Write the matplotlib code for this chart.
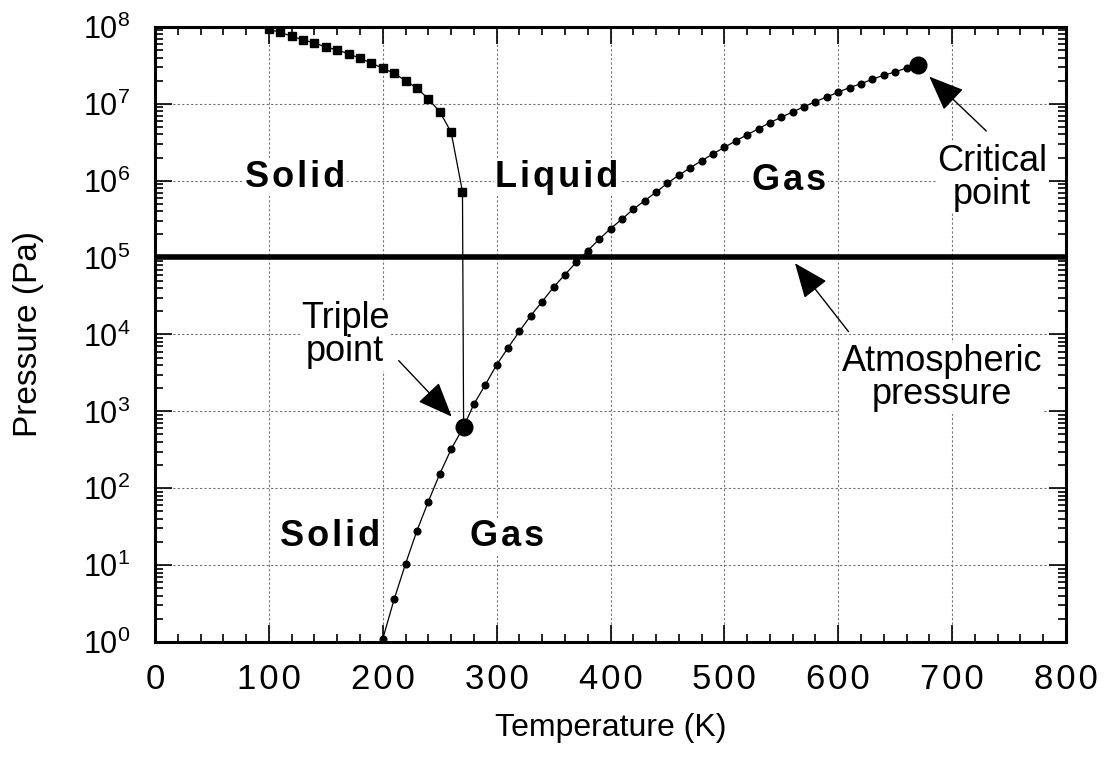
import matplotlib
matplotlib.use('Agg')
from matplotlib import pyplot as plt
from matplotlib.ticker import LogLocator, MultipleLocator, NullFormatter

plt.rcParams['font.family'] = ['Liberation Sans', 'DejaVu Sans']
plt.rcParams['mathtext.fontset'] = 'custom'
plt.rcParams['mathtext.rm'] = 'Liberation Sans'

# solid-liquid boundary (squares)
melt_T = [100, 110, 120, 130, 140, 150, 160, 170, 180, 190, 200, 210, 220, 230, 240, 250, 260, 270]
melt_P = [9.3e7, 8.5e7, 7.6e7, 6.8e7, 6.2e7, 5.5e7, 5.0e7, 4.5e7, 3.9e7, 3.4e7,
          2.9e7, 2.5e7, 2.0e7, 1.6e7, 1.16e7, 7.9e6, 4.3e6, 7.2e5]

# sublimation + vaporization boundary (small dots)
vap_T = [200, 210, 220, 230, 240, 250, 260,
         280, 290, 300, 310, 320, 330, 340, 350, 360, 370, 380, 390, 400,
         410, 420, 430, 440, 450, 460, 470, 480, 490, 500, 510, 520, 530,
         540, 550, 560, 570, 580, 590, 600, 610, 620, 630, 640, 650, 660]
vap_P = [1.1, 3.6, 10.4, 28, 67, 153, 321,
         1240, 2210, 4030, 6700, 11000, 17600, 26800, 41200, 60200, 87000, 1.23e5, 1.73e5, 2.38e5,
         3.16e5, 4.26e5, 5.5e5, 7.1e5, 9.3e5, 1.18e6, 1.47e6, 1.82e6, 2.23e6, 2.72e6, 3.3e6, 3.96e6, 4.75e6,
         5.7e6, 6.7e6, 7.85e6, 9.2e6, 1.07e7, 1.23e7, 1.42e7, 1.63e7, 1.83e7, 2.09e7, 2.36e7, 2.6e7, 2.93e7]

triple_T, triple_P = 271, 630
critical_T, critical_P = 670, 3.2e7
atm_P = 1.01e5

x_ticks = [0, 100, 200, 300, 400, 500, 600, 700, 800]
y_exps = [0, 1, 2, 3, 4, 5, 6, 7, 8]

fig = plt.figure(figsize=(11.09, 7.62), dpi=100)
ax = fig.add_axes([0.1398, 0.1575, 0.8214, 0.8071])

ax.set_xlim(0, 800)
ax.set_ylim(1, 1e8)
ax.set_yscale('log')

ax.grid(True, which='major', color='0.45', linestyle=(0, (2, 2)), linewidth=0.8)
ax.set_axisbelow(True)

ax.axhline(atm_P, color='black', linewidth=4, zorder=3)

# lines
ax.plot(melt_T + [triple_T], melt_P + [triple_P], color='black', lw=0.9, zorder=4)
line_T = vap_T[:7] + [triple_T] + vap_T[7:] + [critical_T]
line_P = vap_P[:7] + [triple_P] + vap_P[7:] + [critical_P]
ax.plot(line_T, line_P, color='black', lw=0.9, zorder=4)

# markers
ax.plot(melt_T, melt_P, 's', color='black', markersize=5.5, zorder=5)
ax.plot(vap_T, vap_P, 'o', color='black', markersize=4.8, zorder=5)
ax.plot([triple_T, critical_T], [triple_P, critical_P], 'o', color='black', markersize=12, zorder=6)

# region labels (letter-spaced)
lab = dict(fontsize=26, fontweight='bold', ha='center', va='baseline', zorder=7)
for txt, tx, py in [('Solid', 123, 8.3e5), ('Liquid', 353, 8.3e5), ('Gas', 557, 7.6e5),
                    ('Solid', 154, 17.5), ('Gas', 309, 17.5)]:
    t = ax.text(tx, py, '\u200a'.join(txt), **lab)
    t.set_bbox(dict(facecolor='white', edgecolor='none', pad=1))

arrow = dict(arrowstyle='-|>,head_length=2.2,head_width=0.9', color='black', lw=1.0,
             shrinkA=0, shrinkB=0)
ann = dict(fontsize=26, ha='center', va='center', linespacing=0.92, zorder=7,
           bbox=dict(facecolor='white', edgecolor='none', pad=1))
ax.annotate('', xy=(260.5, 855), xytext=(214, 4570), arrowprops=arrow, zorder=7)
ax.text(167, 9800, 'Triple\npoint', **ann)
ax.annotate('', xy=(680, 2.26e7), xytext=(730, 4.44e6), arrowprops=arrow, zorder=7)
ax.text(735, 1.09e6, 'Critical\npoint', **ann)
ax.annotate('', xy=(562, 8.45e4), xytext=(609, 1.09e4), arrowprops=arrow, zorder=7)
ax.text(691, 2700, 'Atmospheric\npressure', **ann)

# ticks
ax.set_xticks(x_ticks)
ax.set_xticklabels(['\u200a'.join(str(v)) for v in x_ticks])
ax.xaxis.set_minor_locator(MultipleLocator(20))
ax.set_yticks([10.0 ** k for k in y_exps])
ax.set_yticklabels([r'$\mathregular{10^{%d}}$' % k for k in y_exps])
ax.yaxis.set_minor_locator(LogLocator(base=10, subs=range(2, 10), numticks=20))
ax.yaxis.set_minor_formatter(NullFormatter())
ax.tick_params(which='both', direction='in', top=True, right=True, width=1.2)
ax.tick_params(which='major', length=12)
ax.tick_params(which='minor', length=6)
ax.tick_params(axis='x', pad=15, labelsize=25)
ax.tick_params(axis='y', pad=18, labelsize=22)
for s in ax.spines.values():
    s.set_linewidth(2.2)

ax.set_xlabel('Temperature (K)', fontsize=23)
ax.set_ylabel('Pressure (Pa)', fontsize=24)
ax.xaxis.set_label_coords(0.5, -0.116)
ax.yaxis.set_label_coords(-0.122, 0.5)

fig.savefig('out.png', dpi=100)
